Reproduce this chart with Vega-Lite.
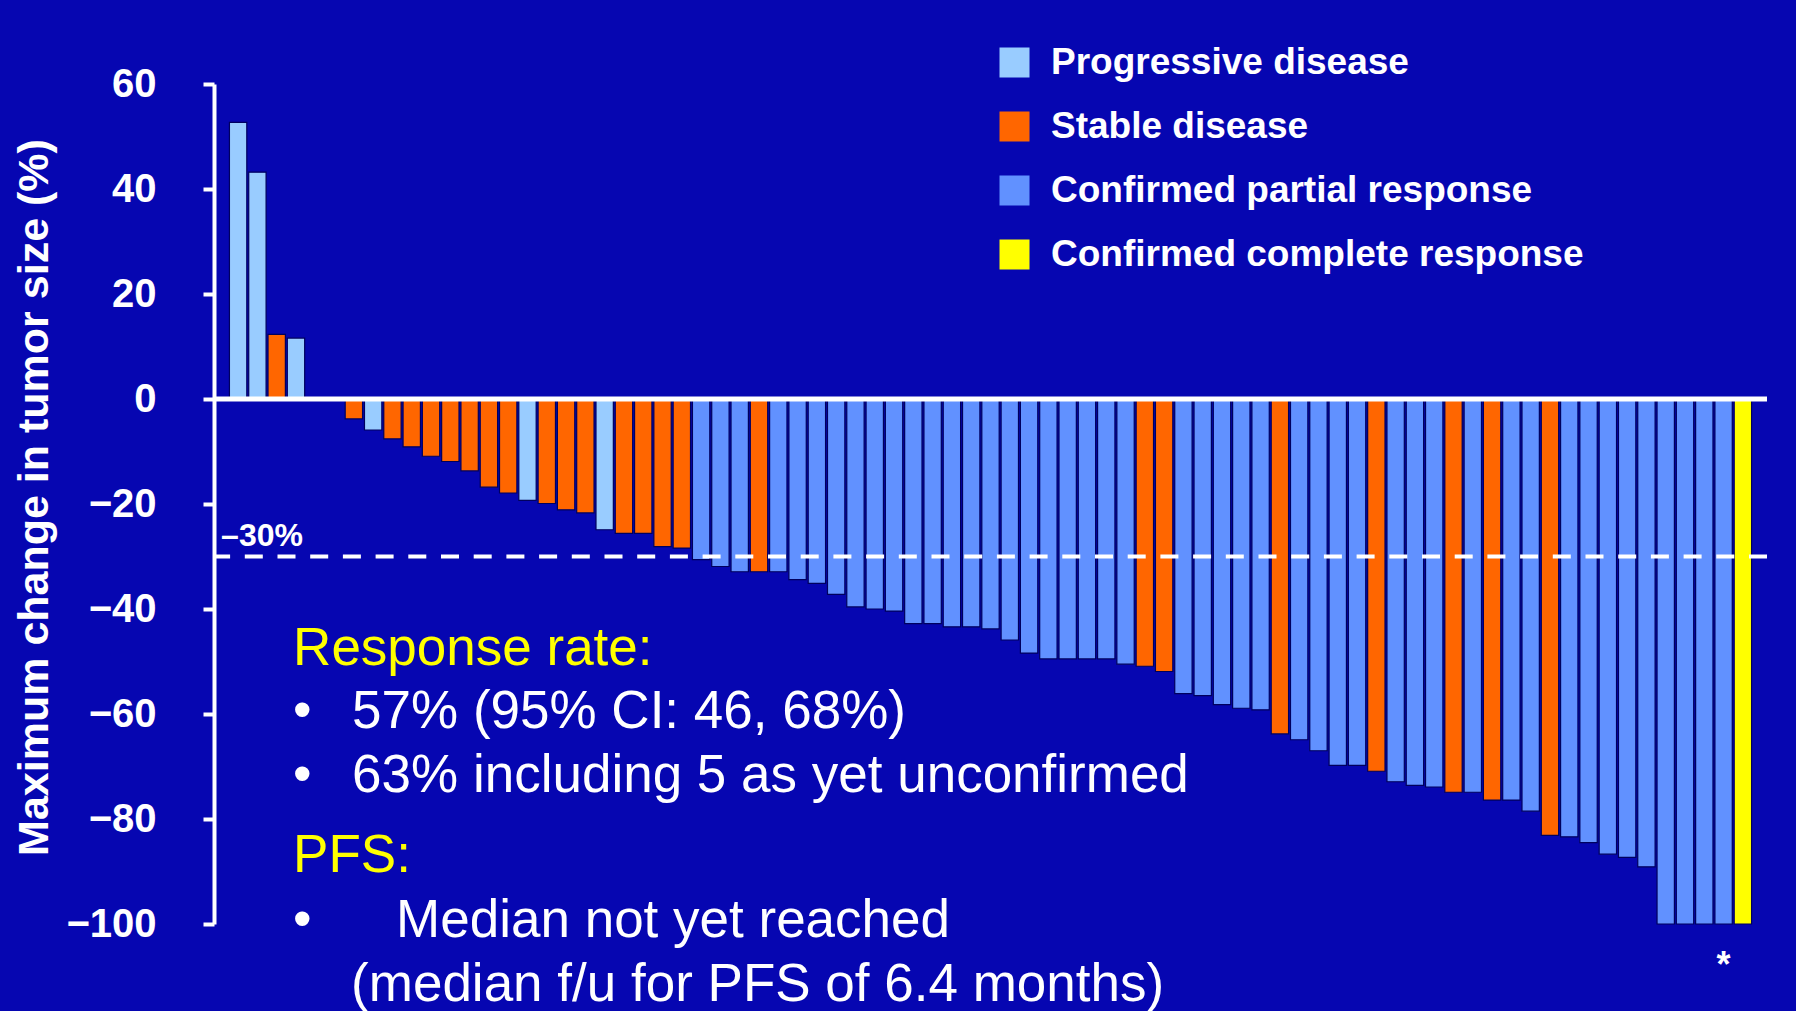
{
  "$schema": "https://vega.github.io/schema/vega-lite/v6.json",
  "width": 1553,
  "height": 840,
  "autosize": {"type": "none"},
  "padding": {"left": 214, "top": 84, "right": 29, "bottom": 87},
  "background": "#0606B1",
  "config": {"view": {"stroke": null}, "font": "Liberation Sans"},
  "data": {
    "values": [
      {"patient": 1, "change": 52.7, "response": "Progressive disease"},
      {"patient": 2, "change": 43.2, "response": "Progressive disease"},
      {"patient": 3, "change": 12.3, "response": "Stable disease"},
      {"patient": 4, "change": 11.6, "response": "Progressive disease"},
      {"patient": 5, "change": 0, "response": "Stable disease"},
      {"patient": 6, "change": 0, "response": "Stable disease"},
      {"patient": 7, "change": -3.8, "response": "Stable disease"},
      {"patient": 8, "change": -5.9, "response": "Progressive disease"},
      {"patient": 9, "change": -7.6, "response": "Stable disease"},
      {"patient": 10, "change": -9.1, "response": "Stable disease"},
      {"patient": 11, "change": -10.9, "response": "Stable disease"},
      {"patient": 12, "change": -11.9, "response": "Stable disease"},
      {"patient": 13, "change": -13.7, "response": "Stable disease"},
      {"patient": 14, "change": -16.8, "response": "Stable disease"},
      {"patient": 15, "change": -17.9, "response": "Stable disease"},
      {"patient": 16, "change": -19.3, "response": "Progressive disease"},
      {"patient": 17, "change": -19.9, "response": "Stable disease"},
      {"patient": 18, "change": -21.1, "response": "Stable disease"},
      {"patient": 19, "change": -21.7, "response": "Stable disease"},
      {"patient": 20, "change": -24.9, "response": "Progressive disease"},
      {"patient": 21, "change": -25.6, "response": "Stable disease"},
      {"patient": 22, "change": -25.6, "response": "Stable disease"},
      {"patient": 23, "change": -28.1, "response": "Stable disease"},
      {"patient": 24, "change": -28.4, "response": "Stable disease"},
      {"patient": 25, "change": -30.6, "response": "Confirmed partial response"},
      {"patient": 26, "change": -31.9, "response": "Confirmed partial response"},
      {"patient": 27, "change": -32.9, "response": "Confirmed partial response"},
      {"patient": 28, "change": -32.9, "response": "Stable disease"},
      {"patient": 29, "change": -32.9, "response": "Confirmed partial response"},
      {"patient": 30, "change": -34.4, "response": "Confirmed partial response"},
      {"patient": 31, "change": -35.1, "response": "Confirmed partial response"},
      {"patient": 32, "change": -37.2, "response": "Confirmed partial response"},
      {"patient": 33, "change": -39.6, "response": "Confirmed partial response"},
      {"patient": 34, "change": -40.0, "response": "Confirmed partial response"},
      {"patient": 35, "change": -40.4, "response": "Confirmed partial response"},
      {"patient": 36, "change": -42.8, "response": "Confirmed partial response"},
      {"patient": 37, "change": -42.8, "response": "Confirmed partial response"},
      {"patient": 38, "change": -43.4, "response": "Confirmed partial response"},
      {"patient": 39, "change": -43.4, "response": "Confirmed partial response"},
      {"patient": 40, "change": -43.8, "response": "Confirmed partial response"},
      {"patient": 41, "change": -45.9, "response": "Confirmed partial response"},
      {"patient": 42, "change": -48.4, "response": "Confirmed partial response"},
      {"patient": 43, "change": -49.5, "response": "Confirmed partial response"},
      {"patient": 44, "change": -49.5, "response": "Confirmed partial response"},
      {"patient": 45, "change": -49.5, "response": "Confirmed partial response"},
      {"patient": 46, "change": -49.5, "response": "Confirmed partial response"},
      {"patient": 47, "change": -50.5, "response": "Confirmed partial response"},
      {"patient": 48, "change": -50.9, "response": "Stable disease"},
      {"patient": 49, "change": -51.9, "response": "Stable disease"},
      {"patient": 50, "change": -56.1, "response": "Confirmed partial response"},
      {"patient": 51, "change": -56.5, "response": "Confirmed partial response"},
      {"patient": 52, "change": -58.2, "response": "Confirmed partial response"},
      {"patient": 53, "change": -58.9, "response": "Confirmed partial response"},
      {"patient": 54, "change": -59.2, "response": "Confirmed partial response"},
      {"patient": 55, "change": -63.8, "response": "Stable disease"},
      {"patient": 56, "change": -64.9, "response": "Confirmed partial response"},
      {"patient": 57, "change": -67.0, "response": "Confirmed partial response"},
      {"patient": 58, "change": -69.8, "response": "Confirmed partial response"},
      {"patient": 59, "change": -69.8, "response": "Confirmed partial response"},
      {"patient": 60, "change": -70.9, "response": "Stable disease"},
      {"patient": 61, "change": -72.9, "response": "Confirmed partial response"},
      {"patient": 62, "change": -73.6, "response": "Confirmed partial response"},
      {"patient": 63, "change": -73.9, "response": "Confirmed partial response"},
      {"patient": 64, "change": -74.9, "response": "Stable disease"},
      {"patient": 65, "change": -74.9, "response": "Confirmed partial response"},
      {"patient": 66, "change": -76.4, "response": "Stable disease"},
      {"patient": 67, "change": -76.4, "response": "Confirmed partial response"},
      {"patient": 68, "change": -78.5, "response": "Confirmed partial response"},
      {"patient": 69, "change": -83.1, "response": "Stable disease"},
      {"patient": 70, "change": -83.4, "response": "Confirmed partial response"},
      {"patient": 71, "change": -84.5, "response": "Confirmed partial response"},
      {"patient": 72, "change": -86.7, "response": "Confirmed partial response"},
      {"patient": 73, "change": -87.3, "response": "Confirmed partial response"},
      {"patient": 74, "change": -89.1, "response": "Confirmed partial response"},
      {"patient": 75, "change": -100, "response": "Confirmed partial response"},
      {"patient": 76, "change": -100, "response": "Confirmed partial response"},
      {"patient": 77, "change": -100, "response": "Confirmed partial response"},
      {"patient": 78, "change": -100, "response": "Confirmed partial response"},
      {"patient": 79, "change": -100, "response": "Confirmed complete response"}
    ]
  },
  "layer": [
    {
      "mark": {"type": "bar", "stroke": "#00005E", "strokeWidth": 1.2},
      "encoding": {
        "x": {
          "field": "patient",
          "type": "ordinal",
          "axis": null,
          "scale": {"paddingInner": 0.1, "paddingOuter": 0.8}
        },
        "y": {
          "field": "change",
          "type": "quantitative",
          "scale": {"domain": [-100, 60], "nice": false},
          "axis": {
            "title": "Maximum change in tumor size (%)",
            "values": [-100, -80, -60, -40, -20, 0, 20, 40, 60],
            "grid": false,
            "domainColor": "white",
            "domainWidth": 4,
            "tickColor": "white",
            "tickWidth": 4,
            "tickSize": 11,
            "labelColor": "white",
            "labelFont": "Liberation Sans",
            "labelFontSize": 40,
            "labelFontWeight": "bold",
            "labelPadding": 47,
            "labelOverlap": false,
            "titleColor": "white",
            "titleFont": "Liberation Sans",
            "titleFontSize": 43,
            "titleFontWeight": "bold",
            "titleAngle": -90,
            "titleAlign": "center",
            "titleBaseline": "alphabetic",
            "titleX": -167,
            "titleY": 413
          }
        },
        "color": {
          "field": "response",
          "type": "nominal",
          "scale": {
            "domain": ["Progressive disease", "Stable disease", "Confirmed partial response", "Confirmed complete response"],
            "range": ["#99CCFF", "#FF6600", "#6191FF", "#FFFF00"]
          },
          "legend": {
            "title": null,
            "orient": "none",
            "legendX": 782,
            "legendY": -40,
            "symbolType": "square",
            "symbolSize": 900,
            "symbolStrokeWidth": 0,
            "symbolOpacity": 1,
            "labelColor": "white",
            "labelFont": "Liberation Sans",
            "labelFontSize": 37,
            "labelFontWeight": "bold",
            "labelOffset": 18,
            "labelLimit": 0,
            "rowPadding": 26
          }
        }
      }
    },
    {
      "data": {"values": [{}]},
      "mark": {"type": "rule", "color": "white", "strokeWidth": 5},
      "encoding": {"y": {"datum": 0}}
    },
    {
      "data": {"values": [{}]},
      "mark": {"type": "rule", "color": "white", "strokeWidth": 4, "strokeDash": [18, 14.7]},
      "encoding": {"y": {"datum": -30}}
    },
    {
      "data": {"values": [{}]},
      "mark": {"type": "text", "text": "–30%", "color": "white", "font": "Liberation Sans", "fontSize": 32, "fontWeight": "bold", "align": "left", "baseline": "alphabetic", "dx": -17, "dy": -11},
      "encoding": {"x": {"datum": 1, "type": "ordinal"}, "y": {"datum": -30}}
    },
    {
      "data": {"values": [{}]},
      "mark": {"type": "text", "text": "*", "color": "white", "font": "Liberation Sans", "fontSize": 36, "fontWeight": "bold", "align": "center", "baseline": "alphabetic", "dy": 53},
      "encoding": {"x": {"datum": 78, "type": "ordinal"}, "y": {"datum": -100}}
    },
    {
      "data": {"values": [{}]},
      "mark": {"type": "text", "text": "Response rate:", "color": "#FFFF00", "font": "Liberation Sans", "fontSize": 53, "align": "left", "baseline": "alphabetic", "dx": 55},
      "encoding": {"x": {"datum": 1, "type": "ordinal"}, "y": {"datum": -50.7}}
    },
    {
      "data": {"values": [{}]},
      "mark": {"type": "text", "text": "•", "color": "white", "font": "Liberation Sans", "fontSize": 53, "align": "left", "baseline": "alphabetic", "dx": 55},
      "encoding": {"x": {"datum": 1, "type": "ordinal"}, "y": {"datum": -62.6}}
    },
    {
      "data": {"values": [{}]},
      "mark": {"type": "text", "text": "57% (95% CI: 46, 68%)", "color": "white", "font": "Liberation Sans", "fontSize": 53, "align": "left", "baseline": "alphabetic", "dx": 114},
      "encoding": {"x": {"datum": 1, "type": "ordinal"}, "y": {"datum": -62.6}}
    },
    {
      "data": {"values": [{}]},
      "mark": {"type": "text", "text": "•", "color": "white", "font": "Liberation Sans", "fontSize": 53, "align": "left", "baseline": "alphabetic", "dx": 55},
      "encoding": {"x": {"datum": 1, "type": "ordinal"}, "y": {"datum": -74.9}}
    },
    {
      "data": {"values": [{}]},
      "mark": {"type": "text", "text": "63% including 5 as yet unconfirmed", "color": "white", "font": "Liberation Sans", "fontSize": 53, "align": "left", "baseline": "alphabetic", "dx": 114},
      "encoding": {"x": {"datum": 1, "type": "ordinal"}, "y": {"datum": -74.9}}
    },
    {
      "data": {"values": [{}]},
      "mark": {"type": "text", "text": "PFS:", "color": "#FFFF00", "font": "Liberation Sans", "fontSize": 53, "align": "left", "baseline": "alphabetic", "dx": 55},
      "encoding": {"x": {"datum": 1, "type": "ordinal"}, "y": {"datum": -90.1}}
    },
    {
      "data": {"values": [{}]},
      "mark": {"type": "text", "text": "•", "color": "white", "font": "Liberation Sans", "fontSize": 53, "align": "left", "baseline": "alphabetic", "dx": 55},
      "encoding": {"x": {"datum": 1, "type": "ordinal"}, "y": {"datum": -102.4}}
    },
    {
      "data": {"values": [{}]},
      "mark": {"type": "text", "text": "Median not yet reached", "color": "white", "font": "Liberation Sans", "fontSize": 53, "align": "left", "baseline": "alphabetic", "dx": 158},
      "encoding": {"x": {"datum": 1, "type": "ordinal"}, "y": {"datum": -102.4}}
    },
    {
      "data": {"values": [{}]},
      "mark": {"type": "text", "text": "(median f/u for PFS of 6.4 months)", "color": "white", "font": "Liberation Sans", "fontSize": 53, "align": "left", "baseline": "alphabetic", "dx": 113},
      "encoding": {"x": {"datum": 1, "type": "ordinal"}, "y": {"datum": -114.6}}
    }
  ]
}
